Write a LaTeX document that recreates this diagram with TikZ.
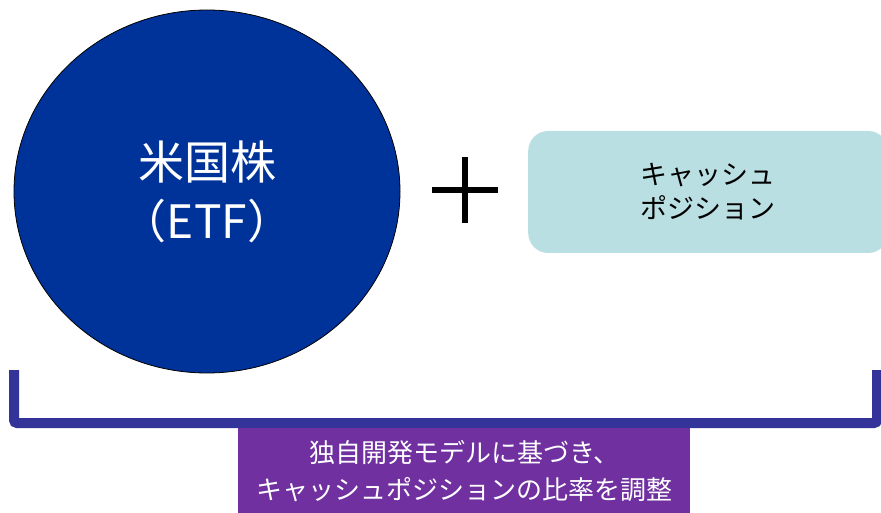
\documentclass[tikz,border=0pt]{standalone}
\usepackage{fontspec}
\setmainfont{Noto Sans CJK JP}
\usetikzlibrary{shapes.geometric}
\definecolor{etfblue}{HTML}{003399}
\definecolor{brk}{HTML}{333399}
\definecolor{cashfill}{HTML}{BADFE3}
\definecolor{notepurple}{HTML}{7030A0}
\tikzset{
  etfnode/.style={ellipse, draw=black, line width=0.8pt, fill=etfblue, minimum width=386pt, minimum height=363pt, inner sep=0pt, text=white, font=\fontsize{46}{59}\selectfont, align=center},
  cashnode/.style={rectangle, rounded corners=20pt, fill=cashfill, minimum width=360pt, minimum height=122pt, anchor=west, font=\fontsize{27}{34}\selectfont, align=center},
  notenode/.style={rectangle, fill=notepurple, minimum width=452pt, minimum height=85pt, text=white, font=\fontsize{26}{37}\selectfont, align=center},
  bracketline/.style={draw=brk, line width=10pt, rounded corners=3pt},
  plusline/.style={draw=black, line width=6pt}
}
\begin{document}
\begin{tikzpicture}[x=1pt,y=-1pt]
\useasboundingbox (0,0) rectangle (881,513);
\node[etfnode] (etf) at (207,191.5) {米国株\\（ETF）};
\node[cashnode] (cash) at (528,192) {キャッシュ\\ポジション};
\draw[plusline] (432,190) -- (498,190);
\draw[plusline] (465,157) -- (465,223);
\draw[bracketline] (14,370) -- (14,423) -- (877,423) -- (877,370);
\node[notenode, anchor=north west] (note) at (238,428) {独自開発モデルに基づき、\\キャッシュポジションの比率を調整};
\end{tikzpicture}
\end{document}
